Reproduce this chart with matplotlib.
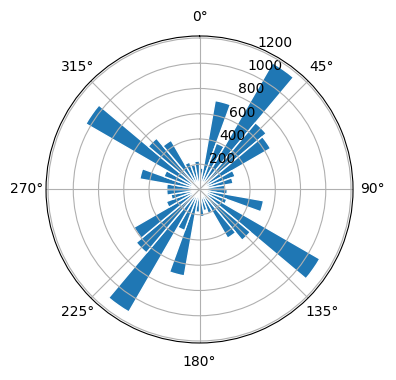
import numpy as np
import matplotlib
matplotlib.use("Agg")
import matplotlib.pyplot as plt

# bin centres in degrees (10 degree bins, clockwise from north)
directions = [5, 15, 25, 35, 45, 55, 65, 75, 85, 95, 105, 115,
              125, 135, 145, 155, 165, 175, 185, 195, 205, 215, 225, 235,
              245, 255, 265, 275, 285, 295, 305, 315, 325, 335, 345, 355]
counts = [170, 715, 390, 1158, 690, 650, 300, 270, 200, 220, 515, 230,
          1100, 525, 445, 200, 170, 215, 180, 695, 345, 1120, 655, 600,
          280, 230, 260, 260, 480, 300, 1040, 530, 450, 230, 200, 225]

fig = plt.figure(figsize=(3.96, 3.8), dpi=100)
ax = fig.add_axes([0.1162, 0.0974, 0.7753, 0.8079], projection='polar')
ax.set_theta_zero_location('N')
ax.set_theta_direction(-1)

theta = np.deg2rad(directions)
ax.bar(theta, counts, width=np.deg2rad(10), color='#1f77b4',
       edgecolor='white', linewidth=1)

fig.savefig('out.png', dpi=100)
